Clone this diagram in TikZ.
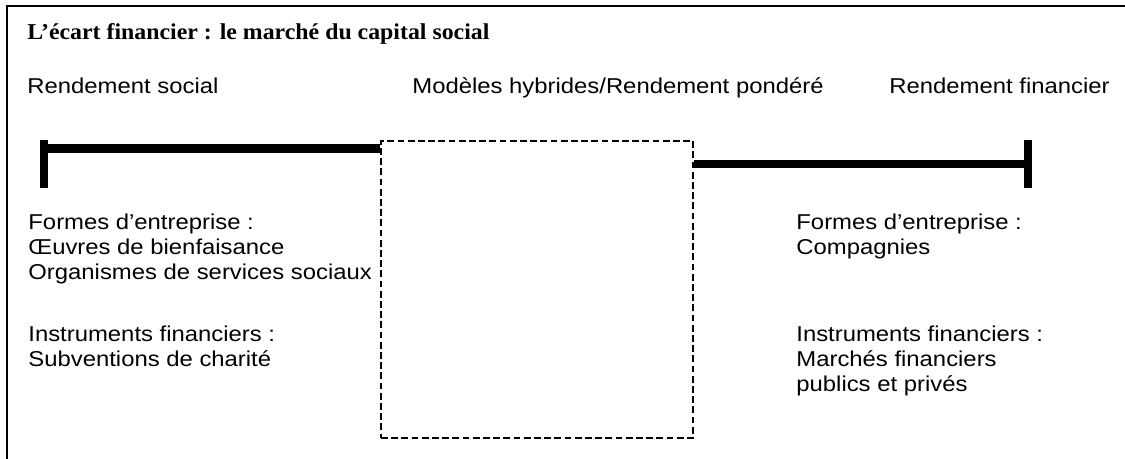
\documentclass[tikz,border=0pt]{standalone}
\usepackage{fontspec}
\newfontfamily\bodyfont[FakeStretch=1.11]{Liberation Sans}
\newfontfamily\titlefont[FakeStretch=1.05]{Liberation Serif}
\begin{document}
\begin{tikzpicture}[x=0.5pt,y=-0.5pt,
  txt/.style={anchor=base west,inner sep=0pt,font=\bodyfont\fontsize{10.75}{12.75}\selectfont},
  ttl/.style={anchor=base west,inner sep=0pt,font=\titlefont\bfseries\fontsize{11.35}{13.5}\selectfont},
  bar/.style={line width=4.2pt},
  tick/.style={line width=4pt},
  dashbox/.style={draw,line width=0.9pt,dash pattern=on 3.4pt off 1.7pt,inner sep=0pt,minimum width=156pt,minimum height=148.5pt},
  frame/.style={line width=1pt}]
\useasboundingbox (0,0) rectangle (1125,459);
\clip (0,0) rectangle (1125,459);
% outer frame (cropped on right and bottom)
\draw[frame] (6.5,480) -- (6.5,6.5) -- (1140,6.5);
% texts
\node[ttl] (title) at (27,40) {L’écart financier : le marché du capital social};
\node[txt] (rs) at (27,94) {Rendement social};
\node[txt] (mh) at (412,94) {Modèles hybrides/Rendement pondéré};
\node[txt] (rf) at (889,94) {Rendement financier};
\node[txt] (l1) at (28,230) {Formes d’entreprise :};
\node[txt] (l2) at (28,255) {Œuvres de bienfaisance};
\node[txt] (l3) at (28,280) {Organismes de services sociaux};
\node[txt] (l4) at (28,342) {Instruments financiers :};
\node[txt] (l5) at (28,367) {Subventions de charité};
\node[txt] (r1) at (796,230) {Formes d’entreprise :};
\node[txt] (r2) at (796,255) {Compagnies};
\node[txt] (r3) at (796,342) {Instruments financiers :};
\node[txt] (r4) at (796,367) {Marchés financiers};
\node[txt] (r5) at (796,392) {publics et privés};
% dashed box
\node[dashbox,anchor=north west] (box) at (380,140) {};
% end ticks
\coordinate (ltt) at (44,140.5);
\coordinate (ltb) at (44,188.5);
\coordinate (rtt) at (1028,140);
\coordinate (rtb) at (1028,188);
\draw[tick] (ltt) -- (ltb);
\draw[tick] (rtt) -- (rtb);
% thick bars
\coordinate (lstart) at (40,148.5);
\coordinate (rend) at (1032,164);
\draw[bar] (lstart) -- (lstart -| box.west);
\draw[bar] (rend -| box.east) -- (rend);
\end{tikzpicture}
\end{document}
